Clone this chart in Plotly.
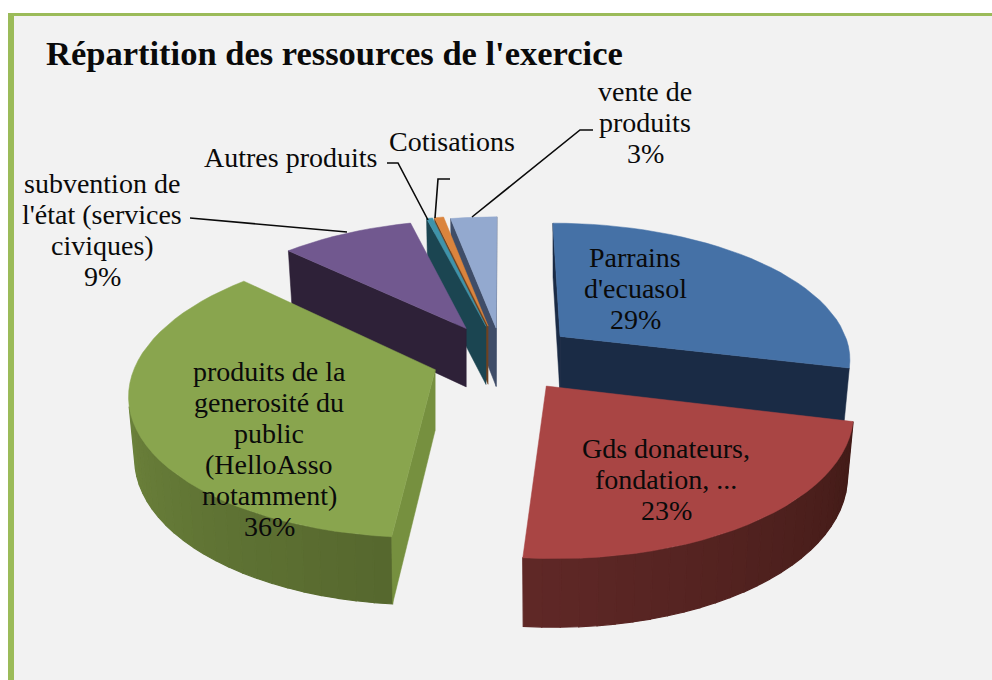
import math
import plotly.graph_objects as go

# ---- data ----
categories = ["Parrains d'ecuasol", "Gds donateurs, fondation, ...",
              "produits de la generosité du public (HelloAsso notamment)",
              "subvention de l'état (services civiques)", "Autres produits",
              "Cotisations", "vente de produits"]
values = [28.8, 22.7, 35.7, 8.9, 0.4, 0.6, 3.0]
pull = [0.25, 0.28, 0.22, 0.25, 0.24, 0.24, 0.22]
radius = [1.0, 1.0, 1.02, 0.97, 1.0, 1.0, 1.0]
nudge = [(2, 0), (-5, -3), (-6, 2), (0, 0), (0, 0), (0, 0), (0, 0)]
top_colors = ["#4571a6", "#a94544", "#89a54e", "#71588f", "#3f93aa", "#db843d", "#93a9cf"]
cut_colors = ["#1a2b45", "#431c18", "#76903f", "#2e2138", "#1b4551", "#6e4220", "#3f4d68"]
wall_start = ["#1a2b45", "#421b17", "#56682e", "#2e2138", "#1b4551", "#6e4220", "#3f4d68"]
wall_end = ["#1a2b45", "#602827", "#7d9746", "#2e2138", "#1b4551", "#6e4220", "#3f4d68"]
draw_order = [6, 5, 4, 3, 0, 2, 1]

title = "Répartition des ressources de l'exercice"
label_lines = [["Parrains", "d'ecuasol", "29%"],
               ["Gds donateurs,", "fondation, ...", "23%"],
               ["produits de la", "generosité du", "public", "(HelloAsso", "notamment)", "36%"],
               ["subvention de", "l'état (services", "civiques)", "9%"],
               ["Autres produits"], ["Cotisations"], ["vente de", "produits", "3%"]]
label_xy = [(635, 288), (666, 479), (269, 449), (102, 230), (290, 157), (452, 141), (645, 122)]
leaders = ["M190 218 L347 232", "M387 163 L398 163 L428 220", "M450 179 L438 179 L435 218",
           "M472 217 L580 130 L593 130"]

# ---- projection parameters ----
CX, CY = 502, 357
RX, RY, P = 292, 136, 0.15
DEPTH, SHRINK = 60, 0.98
LINE_STEP = 31
FONT = "Liberation Serif"


def project(X, Y, nd):
    s = 1 / (1 + P * Y)
    return (CX + nd[0] + RX * X * s, CY + nd[1] - RY * Y * s), s


def lower(pt, s, c):
    return (c[0] + (pt[0] - c[0]) * SHRINK, c[1] + (pt[1] - c[1]) * SHRINK + DEPTH * s ** 0.9)


def area(poly):
    return sum(poly[i][0] * poly[(i + 1) % len(poly)][1] - poly[(i + 1) % len(poly)][0] * poly[i][1]
               for i in range(len(poly)))


def mix(c1, c2, t):
    a = [int(c1[i:i + 2], 16) for i in (1, 3, 5)]
    b = [int(c2[i:i + 2], 16) for i in (1, 3, 5)]
    return "rgb(%d,%d,%d)" % tuple(round(x + (y - x) * t) for x, y in zip(a, b))


fig = go.Figure()


def face(poly, color, name, width=1.0):
    fig.add_trace(go.Scatter(x=[p[0] for p in poly] + [poly[0][0]], y=[p[1] for p in poly] + [poly[0][1]],
                             mode="lines", fill="toself", fillcolor=color, name=name,
                             line=dict(color=color, width=width), hoverinfo="skip", showlegend=False))


total = sum(values)
bounds = [0]
for val in values:
    bounds.append(bounds[-1] + val / total * 360)

for i in draw_order:
    a0, a1 = bounds[i], bounds[i + 1]
    mid = math.radians((a0 + a1) / 2)
    ox, oy = pull[i] * math.sin(mid), pull[i] * math.cos(mid)
    c, cs = project(ox, oy, nudge[i])
    c_low = lower(c, cs, c)
    n = max(2, int((a1 - a0) / 3))
    angles = [math.radians(a0 + (a1 - a0) * k / n) for k in range(n + 1)]
    pts = [project(ox + radius[i] * math.sin(a), oy + radius[i] * math.cos(a), nudge[i]) for a in angles]
    tops = [p[0] for p in pts]
    lows = [lower(p[0], p[1], c) for p in pts]
    for k in range(n):
        strip = [tops[k], tops[k + 1], lows[k + 1], lows[k]]
        if area(strip) < 0:
            face(strip, mix(wall_start[i], wall_end[i], k / n), categories[i], 1.2)
    end_cut = [tops[-1], c, c_low, lows[-1]]
    start_cut = [c, tops[0], lows[0], c_low]
    for cut in (end_cut, start_cut):
        if area(cut) < 0:
            face(cut, cut_colors[i], categories[i], 0.5)
    face([c] + tops, top_colors[i], categories[i], 0.5)

for lines, (x, y) in zip(label_lines, label_xy):
    for j, line in enumerate(lines):
        fig.add_annotation(x=x, y=y + (j - (len(lines) - 1) / 2) * LINE_STEP, text=line, showarrow=False,
                           font=dict(family=FONT, size=28, color="#0a0a0a"))
fig.add_annotation(x=44, y=53, text="<b>%s</b>" % title, showarrow=False, xanchor="left",
                   font=dict(family=FONT, size=34.5, color="#0a0a0a"))

shapes = [dict(type="rect", x0=8, x1=992, y0=13, y1=680, fillcolor="#9bbb59", line_width=0, layer="below"),
          dict(type="rect", x0=14, x1=992, y0=16, y1=680, fillcolor="#f2f2f2", line_width=0, layer="below")]
shapes += [dict(type="path", path=p, line=dict(color="#0a0a0a", width=1.6), layer="above") for p in leaders]

fig.update_layout(width=992, height=680, margin=dict(l=0, r=0, t=0, b=0), paper_bgcolor="white",
                  plot_bgcolor="rgba(0,0,0,0)", showlegend=False, shapes=shapes,
                  xaxis=dict(range=[0, 992], visible=False, fixedrange=True),
                  yaxis=dict(range=[680, 0], visible=False, fixedrange=True))
fig.write_html("out.html", config={"displayModeBar": False},
               post_script="document.body.style.margin='0';document.body.style.overflow='hidden';")
